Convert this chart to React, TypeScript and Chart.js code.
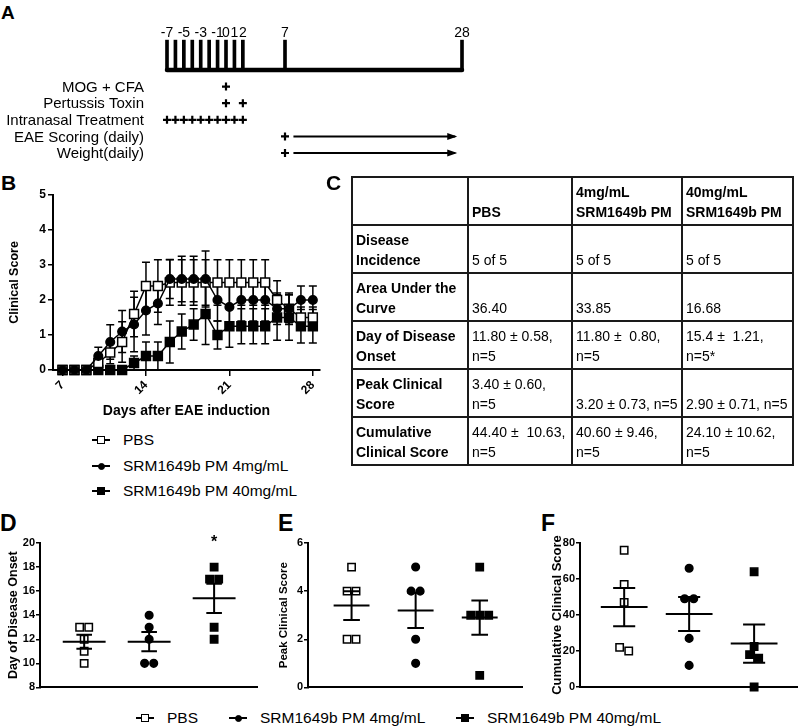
import React, { useEffect, useRef } from "react";
import { Chart, registerables } from "chart.js";
Chart.register(...registerables);

const FONT = '"Liberation Sans", Arial, Helvetica, sans-serif';

// ---------------- Panel A: schedule ----------------
const scheduleTickDays = [-7, -6, -5, -4, -3, -2, -1, 0, 1, 2, 7, 28];
const scheduleTickLabelDays = [-7, -5, -3, -1, 0, 1, 2, 7, 28];
const scheduleRowLabels = ["MOG + CFA", "Pertussis Toxin", "Intranasal Treatment", "EAE Scoring (daily)", "Weight(daily)"];
const mogCfaDays = [0];
const pertussisDays = [0, 2];
const intranasalDays = [-7, -6, -5, -4, -3, -2, -1, 0, 1, 2];
const scoringStartDays = [7];
const weightStartDays = [7];
const dailyArrowFrom = 8;
const dailyArrowTo = 27.2;

// ---------------- Panel B: clinical score time course ----------------
const bDays = [7, 8, 9, 10, 11, 12, 13, 14, 15, 16, 17, 18, 19, 20, 21, 22, 23, 24, 25, 26, 27, 28];
const bXTicks = [7, 14, 21, 28];
const bPbsMean = [0, 0, 0, 0.2, 0.5, 0.8, 1.6, 2.4, 2.4, 2.5, 2.5, 2.5, 2.5, 2.5, 2.5, 2.5, 2.5, 2.5, 2.0, 1.75, 1.5, 1.5];
const bPbsSem = [0, 0, 0, 0.2, 0.32, 0.58, 0.65, 0.68, 0.75, 0.65, 0.65, 0.65, 0.65, 0.65, 0.65, 0.65, 0.65, 0.65, 0.55, 0.45, 0.3, 0.3];
const b4Mean = [0, 0, 0, 0.4, 0.8, 1.1, 1.3, 1.7, 1.9, 2.6, 2.6, 2.6, 2.6, 2.0, 1.8, 2.0, 2.0, 2.0, 1.75, 1.75, 2.0, 2.0];
const b4Sem = [0, 0, 0, 0.25, 0.49, 0.6, 0.78, 0.7, 0.6, 0.56, 0.65, 0.65, 0.8, 0.6, 0.6, 0.6, 0.6, 0.6, 0.45, 0.4, 0.4, 0.4];
const b40Mean = [0, 0, 0, 0, 0, 0, 0.2, 0.4, 0.4, 0.8, 1.1, 1.3, 1.6, 1.0, 1.25, 1.25, 1.25, 1.25, 1.5, 1.5, 1.25, 1.25];
const b40Sem = [0, 0, 0, 0, 0, 0, 0.2, 0.4, 0.4, 0.6, 0.5, 0.45, 0.87, 0.4, 0.6, 0.5, 0.5, 0.5, 0.65, 0.65, 0.48, 0.48];

// ---------------- Panel C: table ----------------
const tableHeader = ["", "PBS", "4mg/mL\nSRM1649b PM", "40mg/mL\nSRM1649b PM"];
const tableRowLabels = ["Disease\nIncidence", "Area Under the\nCurve", "Day of Disease\nOnset", "Peak Clinical\nScore", "Cumulative\nClinical Score"];
const tablePbs = ["5 of 5", "36.40", "11.80 ± 0.58,\nn=5", "3.40 ± 0.60,\nn=5", "44.40 ±  10.63,\nn=5"];
const table4 = ["5 of 5", "33.85", "11.80 ±  0.80,\nn=5", "3.20 ± 0.73, n=5", "40.60 ± 9.46,\nn=5"];
const table40 = ["5 of 5", "16.68", "15.4 ±  1.21,\nn=5*", "2.90 ± 0.71, n=5", "24.10 ± 10.62,\nn=5"];

// ---------------- Panels D, E, F ----------------
const groupLabels = ["PBS", "SRM1649b PM 4mg/mL", "SRM1649b PM 40mg/mL"];
const onsetPbs = [13, 13, 12, 11, 10];
const onset4 = [14, 13, 12, 10, 10];
const onset40 = [18, 17, 17, 13, 12];
const onsetMean = [11.8, 11.8, 15.4];
const onsetSem = [0.58, 0.8, 1.21];
const peakPbs = [5, 4, 4, 2, 2];
const peak4 = [5, 4, 4, 2, 1];
const peak40 = [5, 3, 3, 3, 0.5];
const peakMean = [3.4, 3.2, 2.9];
const peakSem = [0.6, 0.73, 0.71];
const cumPbs = [76, 57, 47, 22, 20];
const cum4 = [66, 49, 49, 27, 12];
const cum40 = [64, 22.5, 18, 16, 0];
const cumMean = [44.4, 40.6, 24.1];
const cumSem = [10.63, 9.46, 10.62];

// ---------------------------------------------------
const bold = (size: number) => ({ family: FONT, size, weight: "bold" as const });

function ChartCanvas({ left, top, width, height, make }: any) {
  const ref = useRef<HTMLCanvasElement>(null);
  useEffect(() => {
    const c = new Chart(ref.current as HTMLCanvasElement, make());
    return () => c.destroy();
  }, []);
  return (
    <canvas
      ref={ref}
      width={width}
      height={height}
      style={{ position: "absolute", left, top, width, height }}
    />
  );
}

// ----- Panel A config -----
function makeA() {
  const rowY = (i: number) => -(i + 1);
  const plusSet = (days: number[], row: number) => ({
    type: "scatter",
    data: days.map((d) => ({ x: d, y: rowY(row) })),
    pointStyle: "cross",
    pointRadius: 4,
    pointBorderWidth: 2.2,
    pointBorderColor: "#000",
    showLine: false,
    clip: false,
  });
  const arrowSet = (row: number) => ({
    type: "line",
    data: [
      { x: dailyArrowFrom, y: rowY(row) },
      { x: dailyArrowTo, y: rowY(row) },
    ],
    borderColor: "#000",
    borderWidth: 2,
    pointRadius: 0,
    clip: false,
  });
  const textPlugin = {
    id: "scheduleText",
    afterDraw(chart: any) {
      const { ctx, scales } = chart;
      const x = scales.x, y = scales.y;
      ctx.save();
      ctx.fillStyle = "#000";
      ctx.font = `14px ${FONT}`;
      ctx.textAlign = "center";
      ctx.textBaseline = "middle";
      scheduleTickLabelDays.forEach((d) => {
        ctx.fillText(String(d), x.getPixelForValue(d), y.getPixelForValue(2.22));
      });
      ctx.font = `15px ${FONT}`;
      ctx.textAlign = "right";
      scheduleRowLabels.forEach((lab, i) => {
        ctx.fillText(lab, 144, y.getPixelForValue(rowY(i)) + 1);
      });
      // arrow heads
      [3, 4].forEach((r) => {
        const tx = x.getPixelForValue(dailyArrowTo);
        const ty = y.getPixelForValue(rowY(r));
        ctx.beginPath();
        ctx.moveTo(tx + 2, ty);
        ctx.lineTo(tx - 8, ty - 3.5);
        ctx.lineTo(tx - 8, ty + 3.5);
        ctx.closePath();
        ctx.fill();
      });
      ctx.restore();
    },
  };
  return {
    type: "scatter",
    data: {
      datasets: [
        {
          type: "line",
          data: [
            { x: -7, y: 0 },
            { x: 28, y: 0 },
          ],
          borderColor: "#000",
          borderWidth: 4.5,
          pointRadius: 0,
          borderCapStyle: "round",
          clip: false,
        },
        {
          type: "bar",
          data: scheduleTickDays.map((d) => ({ x: d, y: [0, 1.8] })),
          backgroundColor: "#000",
          barThickness: 3,
          clip: false,
        },
        plusSet(mogCfaDays, 0),
        plusSet(pertussisDays, 1),
        plusSet(intranasalDays, 2),
        plusSet(scoringStartDays, 3),
        plusSet(weightStartDays, 4),
        arrowSet(3),
        arrowSet(4),
      ],
    },
    options: {
      animation: false,
      responsive: false,
      layout: { autoPadding: false, padding: { left: 167, right: 18, top: 20, bottom: 0 } },
      plugins: { legend: { display: false }, tooltip: { enabled: false } },
      scales: {
        x: { type: "linear", display: false, offset: false, min: -7, max: 28 },
        y: { type: "linear", display: false, offset: false, min: -6.024, max: 3.012 },
      },
    },
    plugins: [textPlugin],
  };
}

// ----- Panel B config -----
function makeB() {
  const series = [
    { mean: b4Mean, sem: b4Sem },
    { mean: bPbsMean, sem: bPbsSem },
    { mean: b40Mean, sem: b40Sem },
  ];
  const errPlugin = {
    id: "errB",
    beforeDatasetsDraw(chart: any) {
      const { ctx, scales } = chart;
      const x = scales.x, y = scales.y;
      ctx.save();
      ctx.strokeStyle = "#000";
      ctx.lineWidth = 1.5;
      series.forEach((s) => {
        bDays.forEach((d, i) => {
          const e = s.sem[i];
          if (!e) return;
          const px = x.getPixelForValue(d);
          const yt = y.getPixelForValue(s.mean[i] + e);
          const yb = y.getPixelForValue(s.mean[i] - e);
          ctx.beginPath();
          ctx.moveTo(px, yt);
          ctx.lineTo(px, yb);
          ctx.moveTo(px - 4, yt);
          ctx.lineTo(px + 4, yt);
          ctx.moveTo(px - 4, yb);
          ctx.lineTo(px + 4, yb);
          ctx.stroke();
        });
      });
      ctx.restore();
    },
  };
  const ds = (mean: number[], style: string, r: number, fill: string) => ({
    data: bDays.map((d, i) => ({ x: d, y: mean[i] })),
    borderColor: "#000",
    borderWidth: 1.5,
    pointStyle: style,
    pointRadius: r,
    pointBackgroundColor: fill,
    pointBorderColor: "#000",
    pointBorderWidth: 1.5,
    clip: false,
  });
  return {
    type: "line",
    data: {
      datasets: [
        ds(b4Mean, "circle", 4.3, "#000"),
        ds(bPbsMean, "rect", 6.3, "#fff"),
        ds(b40Mean, "rect", 6.3, "#000"),
      ],
    },
    options: {
      animation: false,
      responsive: false,
      layout: { autoPadding: false, padding: { left: 3, top: 25, right: 10, bottom: 6 } },
      plugins: { legend: { display: false }, tooltip: { enabled: false } },
      scales: {
        x: {
          type: "linear",
          min: 6.2,
          max: 28.6,
          afterBuildTicks: (s: any) => {
            s.ticks = bXTicks.map((v) => ({ value: v }));
          },
          afterFit: (s: any) => {
            s.height = 54;
          },
          ticks: { minRotation: 45, maxRotation: 45, font: bold(12), color: "#000", padding: 2 },
          grid: { drawOnChartArea: false, color: "#000", lineWidth: 1.5, tickLength: 6 },
          border: { color: "#000", width: 2 },
          title: { display: true, text: "Days after EAE induction", font: bold(14), color: "#000" },
        },
        y: {
          type: "linear",
          min: 0,
          max: 5,
          afterFit: (s: any) => {
            s.width = 50;
          },
          ticks: { stepSize: 1, font: bold(12), color: "#000", padding: 2 },
          grid: { drawOnChartArea: false, color: "#000", lineWidth: 1.5, tickLength: 5 },
          border: { color: "#000", width: 2 },
          title: { display: true, text: "Clinical Score", font: bold(12.5), color: "#000" },
        },
      },
    },
    plugins: [errPlugin],
  };
}

// ----- dot plot (D/E/F) -----
function jitter(values: number[], tol: number, step: number) {
  const order = values.map((_, i) => i).sort((a, b) => values[b] - values[a]);
  const offs = new Array(values.length).fill(0);
  let i = 0;
  while (i < order.length) {
    let j = i;
    while (j + 1 < order.length && Math.abs(values[order[j + 1]] - values[order[i]]) <= tol) j++;
    const n = j - i + 1;
    for (let k = 0; k < n; k++) offs[order[i + k]] = (k - (n - 1) / 2) * step;
    i = j + 1;
  }
  return offs;
}

const groupStyles = [
  { style: "rect", r: 5.2, fill: "#fff" },
  { style: "circle", r: 3.8, fill: "#000" },
  { style: "rect", r: 5.2, fill: "#000" },
];

function makeDot(o: any) {
  const range = o.yMax - o.yMin;
  const datasets = o.groups.map((vals: number[], gi: number) => {
    const offs = jitter(vals, range * 0.03, 0.14);
    const st = groupStyles[gi];
    return {
      label: groupLabels[gi],
      data: vals.map((v, k) => ({ x: gi + 1 + offs[k], y: v })),
      pointStyle: st.style,
      pointRadius: st.r,
      pointBackgroundColor: st.fill,
      pointBorderColor: "#000",
      pointBorderWidth: 1.5,
      showLine: false,
      clip: false,
    };
  });
  const msPlugin = {
    id: "meanSem",
    afterDatasetsDraw(chart: any) {
      const { ctx, scales } = chart;
      const x = scales.x, y = scales.y;
      ctx.save();
      ctx.strokeStyle = "#000";
      ctx.lineWidth = 2;
      o.means.forEach((m: number, i: number) => {
        const g = i + 1;
        const ym = y.getPixelForValue(m);
        const yt = y.getPixelForValue(m + o.sems[i]);
        const yb = y.getPixelForValue(m - o.sems[i]);
        const xc = x.getPixelForValue(g);
        ctx.beginPath();
        ctx.moveTo(x.getPixelForValue(g - o.meanHalf), ym);
        ctx.lineTo(x.getPixelForValue(g + o.meanHalf), ym);
        ctx.moveTo(xc, yt);
        ctx.lineTo(xc, yb);
        ctx.moveTo(x.getPixelForValue(g - o.capHalf), yt);
        ctx.lineTo(x.getPixelForValue(g + o.capHalf), yt);
        ctx.moveTo(x.getPixelForValue(g - o.capHalf), yb);
        ctx.lineTo(x.getPixelForValue(g + o.capHalf), yb);
        ctx.stroke();
      });
      if (o.star) {
        ctx.fillStyle = "#000";
        ctx.font = `bold 16px ${FONT}`;
        ctx.textAlign = "center";
        ctx.textBaseline = "middle";
        ctx.fillText("*", x.getPixelForValue(o.star.group), y.getPixelForValue(o.star.value));
      }
      ctx.restore();
    },
  };
  return {
    type: "scatter",
    data: { datasets },
    options: {
      animation: false,
      responsive: false,
      layout: { autoPadding: false, padding: o.padding },
      plugins: { legend: { display: false }, tooltip: { enabled: false } },
      scales: {
        x: {
          type: "linear",
          min: 0.32,
          max: 3.66,
          ticks: { display: false },
          grid: { display: false },
          border: { color: "#000", width: 2 },
          afterFit: (s: any) => {
            s.height = 0;
          },
        },
        y: {
          type: "linear",
          min: o.yMin,
          max: o.yMax,
          afterFit: (s: any) => {
            s.width = o.yWidth;
          },
          ticks: { stepSize: o.step, font: bold(11), color: "#000", padding: 1 },
          grid: { drawOnChartArea: false, color: "#000", lineWidth: 1.5, tickLength: 4 },
          border: { color: "#000", width: 2 },
          title: { display: true, text: o.title, font: bold(o.titleSize), color: "#000" },
        },
      },
    },
    plugins: [msPlugin],
  };
}

// ----- Legend pieces -----
function LegendItem({ cx, cy, textX, kind, label }: any) {
  const size = kind === "circle" ? 7 : 8;
  return (
    <>
      <div style={{ position: "absolute", left: cx - 9, top: cy - 0.75, width: 18, height: 1.5, background: "#000" }} />
      <div
        style={{
          position: "absolute",
          left: cx - size / 2,
          top: cy - size / 2,
          width: size,
          height: size,
          boxSizing: "border-box",
          background: kind === "open" ? "#fff" : "#000",
          border: "1.5px solid #000",
          borderRadius: kind === "circle" ? "50%" : 0,
        }}
      />
      <div style={{ position: "absolute", left: textX, top: cy - 10, lineHeight: "20px", fontSize: 15.5, whiteSpace: "nowrap" }}>
        {label}
      </div>
    </>
  );
}

function PanelLetter({ ch, left, top, size }: any) {
  return (
    <div style={{ position: "absolute", left, top, fontSize: size, lineHeight: 1, fontWeight: "bold" }}>{ch}</div>
  );
}

const colWidths = [116, 104, 110, 111];

function Table() {
  const cell = (txt: string, b: boolean, key: number) => (
    <td
      key={key}
      style={{
        border: "2px solid #1a1a1a",
        verticalAlign: "bottom",
        padding: "0 0 2px 3px",
        fontWeight: b ? "bold" : "normal",
        whiteSpace: "pre",
        lineHeight: "20px",
        overflow: "visible",
      }}
    >
      {txt}
    </td>
  );
  const rows = tableRowLabels.map((lab, i) => [lab, tablePbs[i], table4[i], table40[i]]);
  return (
    <table
      style={{
        position: "absolute",
        left: 351,
        top: 176,
        width: 441,
        borderCollapse: "collapse",
        tableLayout: "fixed",
        fontSize: 14,
        fontFamily: FONT,
      }}
    >
      <colgroup>
        {colWidths.map((w, i) => (
          <col key={i} style={{ width: w }} />
        ))}
      </colgroup>
      <tbody>
        <tr style={{ height: 48 }}>{tableHeader.map((h, i) => cell(h, true, i))}</tr>
        {rows.map((r, ri) => (
          <tr key={ri} style={{ height: 48 }}>
            {r.map((c, ci) => cell(c, ci === 0, ci))}
          </tr>
        ))}
      </tbody>
    </table>
  );
}

export default function App() {
  return (
    <div
      style={{
        position: "absolute",
        left: 0,
        top: 0,
        width: 800,
        height: 726,
        background: "#fff",
        fontFamily: FONT,
        color: "#000",
        overflow: "hidden",
      }}
    >
      <PanelLetter ch="A" left={1} top={2.5} size={19} />
      <ChartCanvas left={0} top={0} width={480} height={170} make={makeA} />

      <PanelLetter ch="B" left={1} top={172} size={21} />
      <ChartCanvas left={0} top={170} width={330} height={260} make={makeB} />
      <LegendItem cx={101} cy={440} textX={123} kind="open" label="PBS" />
      <LegendItem cx={101} cy={466} textX={123} kind="circle" label="SRM1649b PM 4mg/mL" />
      <LegendItem cx={101} cy={491} textX={123} kind="filled" label="SRM1649b PM 40mg/mL" />

      <PanelLetter ch="C" left={326} top={172} size={21} />
      <Table />

      <PanelLetter ch="D" left={0} top={512} size={23} />
      <ChartCanvas
        left={0}
        top={520}
        width={262}
        height={175}
        make={() =>
          makeDot({
            groups: [onsetPbs, onset4, onset40],
            means: onsetMean,
            sems: onsetSem,
            yMin: 8,
            yMax: 20,
            step: 2,
            title: "Day of Disease Onset",
            titleSize: 12.5,
            padding: { left: 2, top: 23, right: 5, bottom: 7 },
            yWidth: 38,
            meanHalf: 0.33,
            capHalf: 0.12,
            star: { group: 3, value: 20 },
          })
        }
      />

      <PanelLetter ch="E" left={278} top={512} size={23} />
      <ChartCanvas
        left={265}
        top={520}
        width={262}
        height={175}
        make={() =>
          makeDot({
            groups: [peakPbs, peak4, peak40],
            means: peakMean,
            sems: peakSem,
            yMin: 0,
            yMax: 6,
            step: 2,
            title: "Peak Clinical Score",
            titleSize: 11.5,
            padding: { left: 8, top: 23, right: 5, bottom: 7 },
            yWidth: 35,
            meanHalf: 0.28,
            capHalf: 0.13,
          })
        }
      />

      <PanelLetter ch="F" left={541} top={512} size={23} />
      <ChartCanvas
        left={530}
        top={520}
        width={270}
        height={175}
        make={() =>
          makeDot({
            groups: [cumPbs, cum4, cum40],
            means: cumMean,
            sems: cumSem,
            yMin: 0,
            yMax: 80,
            step: 20,
            title: "Cumulative Clinical Score",
            titleSize: 13,
            padding: { left: 16, top: 23, right: 3, bottom: 8 },
            yWidth: 34,
            meanHalf: 0.36,
            capHalf: 0.17,
          })
        }
      />

      <LegendItem cx={145} cy={718} textX={167} kind="open" label="PBS" />
      <LegendItem cx={238} cy={718} textX={260} kind="circle" label="SRM1649b PM 4mg/mL" />
      <LegendItem cx={465} cy={718} textX={487} kind="filled" label="SRM1649b PM 40mg/mL" />
    </div>
  );
}
